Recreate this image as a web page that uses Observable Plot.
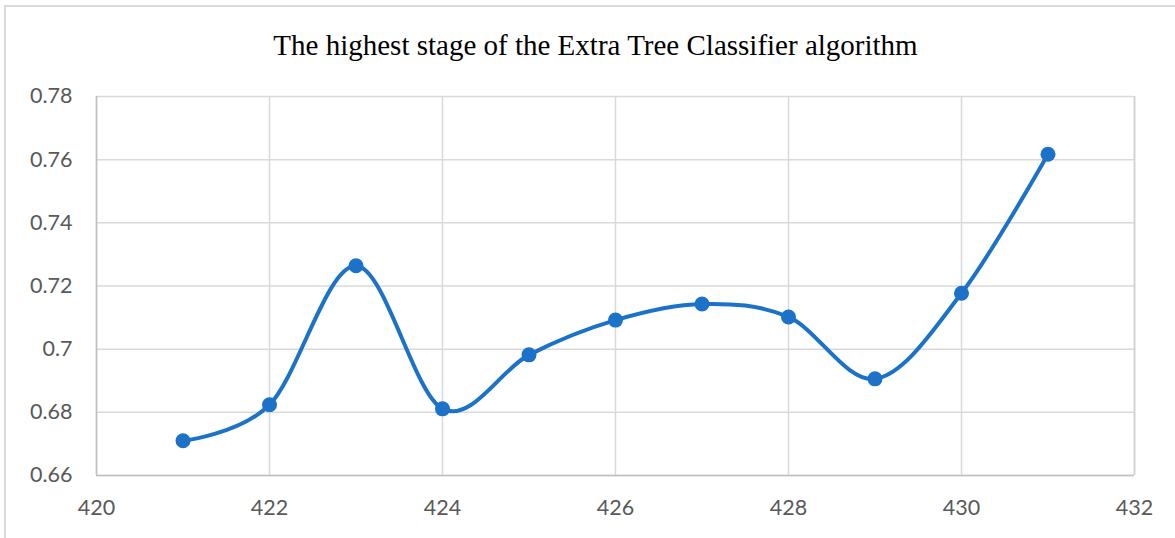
<!DOCTYPE html>
<html>
<head>
<meta charset="utf-8">
<script src="https://cdn.jsdelivr.net/npm/d3@7"></script>
<script src="https://cdn.jsdelivr.net/npm/@observablehq/plot@0.6"></script>
<style>
  html, body { margin: 0; padding: 0; background: #fff; }
  #wrap { position: relative; width: 1175px; height: 538px; overflow: hidden; }
  #frame { position: absolute; left: 4px; top: 5px; width: 1200px; height: 600px;
           border-top: 2px solid #d9d9d9; border-left: 2px solid #d9d9d9; box-sizing: border-box; }
  #title { position: absolute; left: 0; top: 29px; width: 1191px; text-align: center; line-height: normal;
           font-family: "Liberation Serif", "Times New Roman", serif; font-size: 29px; color: #000; white-space: nowrap; }
  #chart { position: absolute; left: 0; top: 70px; }
</style>
</head>
<body>
<div id="wrap">
  <div id="frame"></div>
  <div id="title">The highest stage of the Extra Tree Classifier algorithm</div>
  <div id="chart"></div>
</div>
<script>
const xValues = [421, 422, 423, 424, 425, 426, 427, 428, 429, 430, 431];
const yValues = [0.671, 0.6824, 0.7264, 0.6811, 0.6982, 0.7092, 0.7143, 0.7102, 0.6906, 0.7177, 0.7617];
const xTicks = [420, 422, 424, 426, 428, 430, 432];
const yTicks = [0.66, 0.68, 0.70, 0.72, 0.74, 0.76, 0.78];
const yTickLabels = ["0.66", "0.68", "0.7", "0.72", "0.74", "0.76", "0.78"];

const data = xValues.map((x, i) => ({x, y: yValues[i]}));
const blue = "#1b72c8";
const yFmt = d => yTickLabels[yTicks.findIndex(t => Math.abs(t - d) < 1e-9)];

const chart = Plot.plot({
  width: 1175,
  height: 468,
  marginLeft: 96,
  marginRight: 41,
  marginTop: 26,
  marginBottom: 63,
  style: {fontFamily: "Lato, 'Open Sans', sans-serif", fontSize: "21.5px", color: "#595959", background: "transparent"},
  x: {domain: [420, 432], label: null},
  y: {domain: [0.66, 0.78], label: null},
  marks: [
    Plot.gridX(xTicks, {stroke: "#d9d9d9", strokeOpacity: 1, strokeWidth: 1.5}),
    Plot.gridY(yTicks, {stroke: "#d9d9d9", strokeOpacity: 1, strokeWidth: 1.5}),
    Plot.ruleX([420], {stroke: "#bfbfbf", strokeWidth: 1.5}),
    Plot.ruleY([0.66], {stroke: "#bfbfbf", strokeWidth: 1.5}),
    Plot.ruleX([432], {stroke: "#d0d0d0", strokeWidth: 1.5}),
    Plot.axisX(xTicks, {tickSize: 0, tickPadding: 24, fill: "#595959", tickFormat: d => String(d)}),
    Plot.axisY(yTicks, {tickSize: 0, tickPadding: 24, fill: "#595959", tickFormat: yFmt}),
    Plot.line(data, {x: "x", y: "y", stroke: blue, strokeWidth: 4, curve: "cardinal", tension: 0}),
    Plot.dot(data, {x: "x", y: "y", r: 7.5, fill: blue, stroke: "none"})
  ]
});
document.getElementById("chart").appendChild(chart);
</script>
</body>
</html>
